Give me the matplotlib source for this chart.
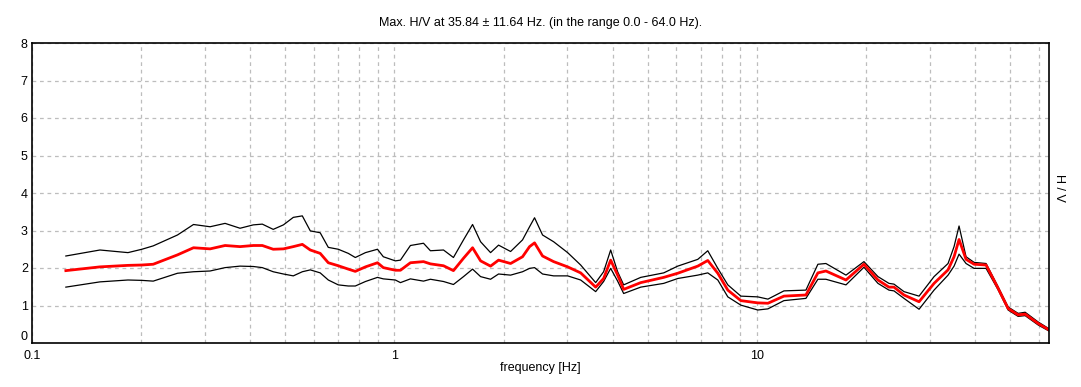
import matplotlib
matplotlib.use("Agg")
import matplotlib.pyplot as plt
from matplotlib.ticker import LogLocator, FixedLocator, FixedFormatter, NullFormatter

freq = [0.124, 0.154, 0.184, 0.201, 0.216, 0.252, 0.279, 0.310, 0.341, 0.375,
        0.408, 0.432, 0.463, 0.494, 0.526, 0.557, 0.586, 0.624, 0.657, 0.700,
        0.746, 0.780, 0.832, 0.898, 0.932, 1.006, 1.039, 1.107, 1.203, 1.257,
        1.366, 1.455, 1.551, 1.643, 1.729, 1.842, 1.938, 2.092, 2.257, 2.360,
        2.436, 2.563, 2.750, 3.006, 3.265, 3.592, 3.778, 3.951, 4.130, 4.291,
        4.783, 5.535, 6.050, 6.871, 7.322, 7.804, 8.317, 9.033, 10.06, 10.73,
        11.88, 13.66, 14.74, 15.51, 17.62, 19.75, 21.59, 23.15, 23.90, 25.47,
        28.03, 30.83, 33.70, 35.01, 36.14, 37.78, 39.76, 42.91, 46.31, 49.36,
        52.60, 55.00, 59.75, 64.0]

hv_mean = [1.93, 2.03, 2.07, 2.08, 2.10, 2.35, 2.54, 2.51, 2.60, 2.57,
           2.60, 2.60, 2.50, 2.51, 2.57, 2.63, 2.48, 2.39, 2.14, 2.06,
           1.97, 1.91, 2.03, 2.14, 2.01, 1.94, 1.94, 2.14, 2.17, 2.11,
           2.06, 1.93, 2.26, 2.54, 2.19, 2.05, 2.21, 2.12, 2.30, 2.57,
           2.67, 2.32, 2.17, 2.03, 1.87, 1.49, 1.72, 2.21, 1.81, 1.43,
           1.61, 1.75, 1.86, 2.05, 2.20, 1.86, 1.41, 1.13, 1.07, 1.06,
           1.25, 1.28, 1.87, 1.92, 1.68, 2.10, 1.68, 1.49, 1.49, 1.28,
           1.10, 1.59, 1.95, 2.30, 2.76, 2.23, 2.10, 2.08, 1.46, 0.92,
           0.75, 0.77, 0.52, 0.35]

hv_upper = [2.32, 2.48, 2.41, 2.50, 2.59, 2.88, 3.16, 3.10, 3.19, 3.06,
            3.15, 3.17, 3.03, 3.15, 3.35, 3.39, 2.99, 2.94, 2.55, 2.50,
            2.39, 2.28, 2.41, 2.50, 2.30, 2.19, 2.21, 2.60, 2.66, 2.46,
            2.48, 2.28, 2.75, 3.16, 2.70, 2.41, 2.61, 2.44, 2.75, 3.10,
            3.34, 2.88, 2.70, 2.41, 2.08, 1.61, 1.90, 2.48, 1.90, 1.55,
            1.75, 1.87, 2.05, 2.23, 2.46, 1.99, 1.55, 1.25, 1.23, 1.17,
            1.39, 1.41, 2.10, 2.12, 1.81, 2.17, 1.77, 1.59, 1.57, 1.37,
            1.25, 1.77, 2.12, 2.57, 3.12, 2.30, 2.15, 2.12, 1.50, 0.96,
            0.79, 0.82, 0.56, 0.38]

hv_lower = [1.49, 1.63, 1.68, 1.67, 1.65, 1.86, 1.90, 1.92, 2.01, 2.05,
            2.04, 2.01, 1.90, 1.84, 1.79, 1.90, 1.95, 1.87, 1.68, 1.55,
            1.52, 1.52, 1.64, 1.75, 1.71, 1.68, 1.61, 1.71, 1.65, 1.70,
            1.64, 1.56, 1.77, 1.97, 1.77, 1.70, 1.84, 1.81, 1.90, 1.99,
            2.01, 1.84, 1.79, 1.79, 1.68, 1.37, 1.64, 1.99, 1.65, 1.32,
            1.49, 1.59, 1.72, 1.81, 1.87, 1.68, 1.23, 1.01, 0.88, 0.91,
            1.13, 1.19, 1.70, 1.70, 1.55, 2.02, 1.59, 1.41, 1.39, 1.19,
            0.90, 1.41, 1.81, 2.05, 2.37, 2.12, 1.99, 1.99, 1.42, 0.88,
            0.71, 0.73, 0.48, 0.32]

plt.rcParams["font.family"] = ["Liberation Sans", "DejaVu Sans"]

fig = plt.figure(figsize=(10.81, 3.87), dpi=100)
ax = fig.add_axes([32 / 1081, 44 / 387, 1017 / 1081, 300 / 387])

ax.plot(freq, hv_upper, color="black", lw=0.9)
ax.plot(freq, hv_lower, color="black", lw=0.9)
ax.plot(freq, hv_mean, color="red", lw=2.0)

ax.set_xscale("log")
ax.set_xlim(0.1, 64.0)
ax.set_ylim(0, 8)

ax.xaxis.set_major_locator(FixedLocator([0.1, 1, 10]))
ax.xaxis.set_major_formatter(FixedFormatter(["0.1", "1", "10"]))
ax.xaxis.set_minor_locator(LogLocator(base=10, subs=range(2, 10)))
ax.xaxis.set_minor_formatter(NullFormatter())
ax.set_yticks(range(0, 9))

ax.grid(True, which="both", axis="x", color="#bdbdbd", ls=(0, (3, 3)), lw=0.9)
ax.grid(True, which="major", axis="y", color="#bdbdbd", ls=(0, (3, 3)), lw=0.9)
ax.tick_params(which="both", length=0, labelsize=9)
ax.tick_params(axis="x", pad=5)
ax.tick_params(axis="y", pad=3)

# nudge the "0" label up a little so it does not sit on "0.1"
ax.get_yticklabels()[0].set_verticalalignment("bottom")

for s in ax.spines.values():
    s.set_linewidth(1.2)

ax.set_title("Max. H/V at 35.84 \u00b1 11.64 Hz. (in the range 0.0 - 64.0 Hz).",
             fontsize=9, pad=12)
ax.set_xlabel("frequency [Hz]", fontsize=9, labelpad=0)
fig.text(1059 / 1081, 1 - 188 / 387, "H / V", rotation=-90, fontsize=9,
         ha="center", va="center")

fig.savefig("out.png", dpi=100)
